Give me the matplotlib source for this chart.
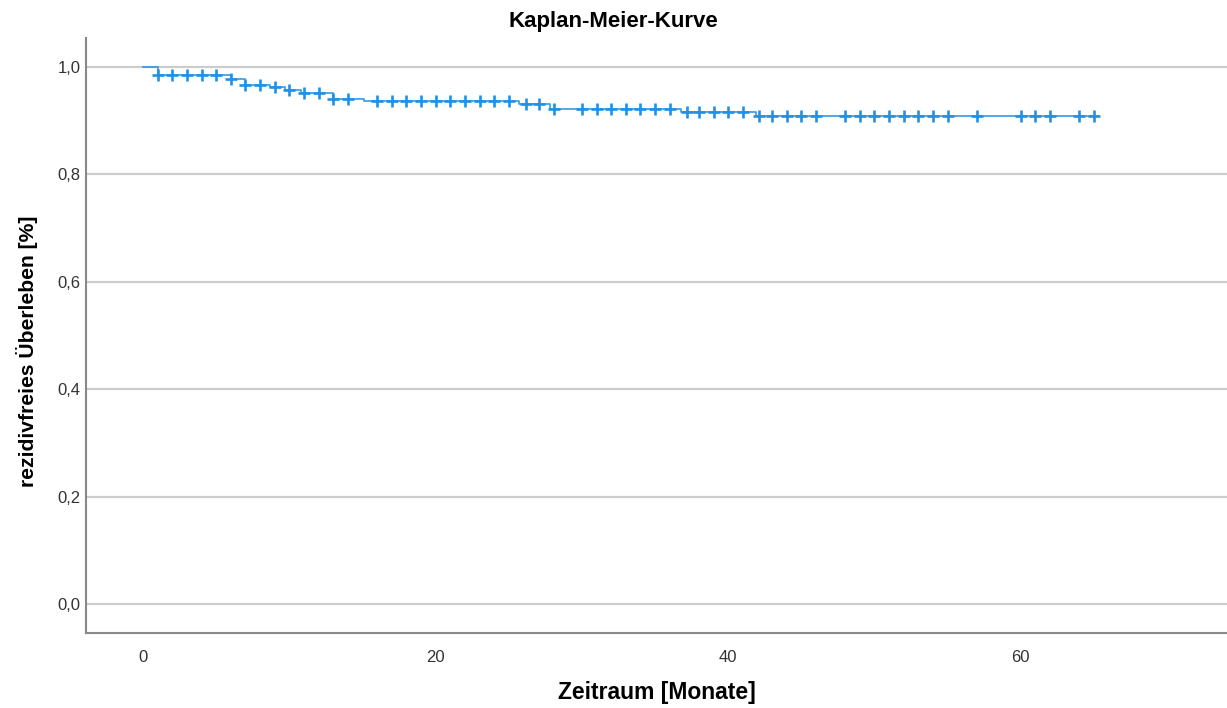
import matplotlib
matplotlib.use("Agg")
import matplotlib.pyplot as plt
import numpy as np

plt.rcParams['font.family'] = ['Liberation Sans', 'DejaVu Sans']

# Kaplan-Meier step function (time of step, survival after step)
step_times = [0, 1, 6, 7, 8.7, 9.7, 10.8, 13, 15.1, 25.7, 27.8, 36.8, 41.9]
step_surv = [1.0, 0.985, 0.977, 0.967, 0.962, 0.957, 0.952, 0.941, 0.936, 0.931, 0.922, 0.916, 0.909]
end_time = 65.3

# censored observations (months)
censor_times = [1, 2, 3, 4, 5, 6, 7, 8, 9, 10, 11, 12, 13, 14, 16, 17, 18, 19, 20,
                21, 22, 23, 24, 25, 26.2, 27.1, 28.1, 30, 31, 32, 33, 34, 35, 36,
                37.2, 38, 39, 40, 41, 42.1, 43, 44, 45, 46, 48, 49, 50, 51, 52, 53,
                54, 55, 57, 60, 61, 62, 64, 65]

title = "Kaplan-Meier-Kurve"
xlabel = "Zeitraum [Monate]"
ylabel = "rezidivfreies Überleben [%]"
xticks = [0, 20, 40, 60]
yticks = [0.0, 0.2, 0.4, 0.6, 0.8, 1.0]
ytick_labels = ["0,0", "0,2", "0,4", "0,6", "0,8", "1,0"]

color = "#2191E6"

fig = plt.figure(figsize=(12.27, 7.08), dpi=100)
ax = fig.add_axes([0.0701, 0.1059, 0.9299, 0.8404])

xs = list(step_times) + [end_time]
ys = list(step_surv) + [step_surv[-1]]
ax.step(xs, ys, where='post', color=color, lw=1.3, alpha=0.85, zorder=3)

def surv_at(t):
    s = step_surv[0]
    for st, sv in zip(step_times, step_surv):
        if t >= st:
            s = sv
    return s

cy = [surv_at(t) for t in censor_times]
ax.plot(censor_times, cy, ls='none', marker='+', ms=8.5, mew=1.9, color=color, zorder=4)

ax.set_xlim(-3.9, 74.1)
ax.set_ylim(-0.054, 1.054)
ax.set_xticks(xticks)
ax.set_xticklabels([str(x) for x in xticks])
ax.set_yticks(yticks)
ax.set_yticklabels(ytick_labels)
ax.tick_params(axis='both', length=0, labelsize=12, colors='#333333')
ax.tick_params(axis='x', pad=12)
ax.tick_params(axis='y', pad=4)

ax.grid(axis='y', color='#cccccc', lw=1.6, zorder=1)
ax.set_axisbelow(True)
for s in ['top', 'right']:
    ax.spines[s].set_visible(False)
for s in ['left', 'bottom']:
    ax.spines[s].set_color('#888888')
    ax.spines[s].set_linewidth(1.5)

fig.text(0.5, 1 - 22 / 708, title, fontsize=16, fontweight='bold', ha='center', va='center')
fig.text(657 / 1227, 1 - 693 / 708, xlabel, fontsize=16.5, fontweight='bold', ha='center', va='center')
fig.text(27 / 1227, 1 - 351 / 708, ylabel, fontsize=15.2, fontweight='bold', ha='center', va='center',
         rotation=90)

fig.savefig("out.png", dpi=100)
